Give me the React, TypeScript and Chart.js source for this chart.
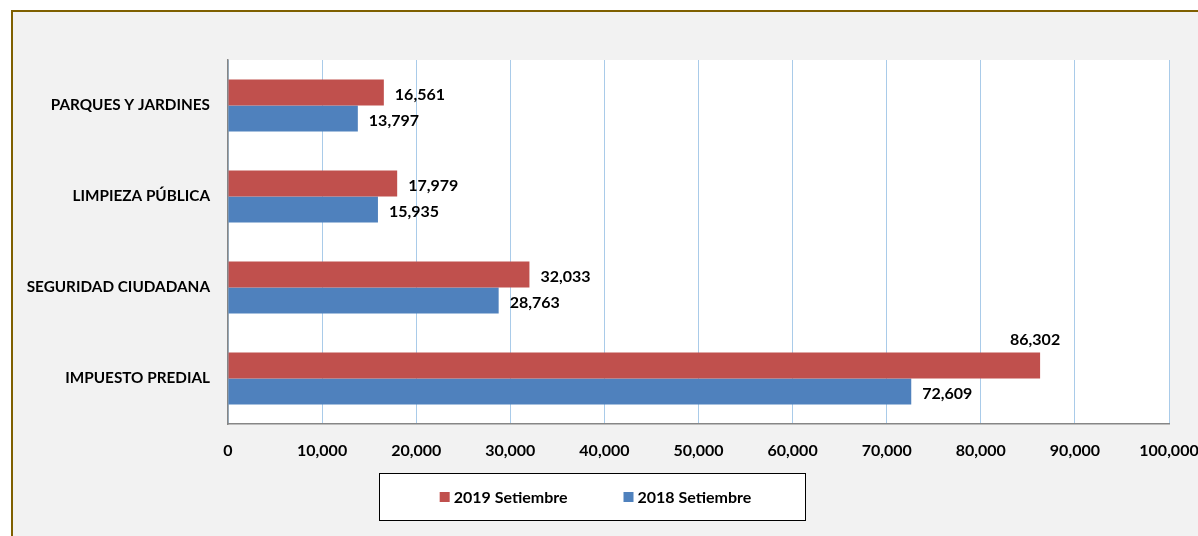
import React, { useEffect, useRef } from 'react';
import { Chart, registerables } from 'chart.js';

Chart.register(...registerables);

const categories = ['PARQUES Y JARDINES', 'LIMPIEZA PÚBLICA', 'SEGURIDAD CIUDADANA', 'IMPUESTO PREDIAL'];
const values2019 = [16561, 17979, 32033, 86302];
const values2018 = [13797, 15935, 28763, 72609];
const seriesNames = ['2019 Setiembre', '2018 Setiembre'];
const seriesColors = ['#c0504d', '#4f81bd'];
const xMin = 0;
const xMax = 100000;
const xStep = 10000;

const FONT = 'Lato, "Liberation Sans", sans-serif';
const fmt = (v: number) => v.toLocaleString('en-US');

const framePlugin = {
  id: 'frame',
  beforeDraw(chart: any) {
    const { ctx, width, height, chartArea } = chart;
    ctx.save();
    ctx.fillStyle = '#ffffff';
    ctx.fillRect(0, 0, width, height);
    ctx.fillStyle = '#f2f2f2';
    ctx.fillRect(12, 11, width - 12, height - 11);
    ctx.strokeStyle = '#7f6000';
    ctx.lineWidth = 2;
    ctx.beginPath();
    ctx.moveTo(12, height);
    ctx.lineTo(12, 11);
    ctx.lineTo(width, 11);
    ctx.stroke();
    ctx.fillStyle = '#ffffff';
    ctx.fillRect(chartArea.left, chartArea.top, chartArea.right - chartArea.left, chartArea.bottom - chartArea.top);
    ctx.restore();
  },
};

const labelPlugin = {
  id: 'valueLabels',
  afterDatasetsDraw(chart: any) {
    const { ctx } = chart;
    let maxVal = -Infinity;
    chart.data.datasets.forEach((ds: any) => ds.data.forEach((v: number) => { if (v > maxVal) maxVal = v; }));
    ctx.save();
    ctx.font = `bold 16px ${FONT}`;
    ctx.fillStyle = '#000000';
    chart.data.datasets.forEach((ds: any, di: number) => {
      const meta = chart.getDatasetMeta(di);
      meta.data.forEach((bar: any, i: number) => {
        const v = ds.data[i];
        const text = fmt(v);
        if (v === maxVal) {
          ctx.textAlign = 'center';
          ctx.textBaseline = 'middle';
          ctx.fillText(text, bar.x - 5, bar.y - bar.height / 2 - 13);
        } else {
          ctx.textAlign = 'left';
          ctx.textBaseline = 'middle';
          ctx.fillText(text, bar.x + 11, bar.y + 2);
        }
      });
    });
    ctx.restore();
  },
};

const legendPlugin = {
  id: 'boxLegend',
  afterDraw(chart: any) {
    const { ctx } = chart;
    const box = { x: 379.5, y: 473.5, w: 426, h: 47 };
    ctx.save();
    ctx.fillStyle = '#ffffff';
    ctx.fillRect(box.x, box.y, box.w, box.h);
    ctx.strokeStyle = '#000000';
    ctx.lineWidth = 1;
    ctx.strokeRect(box.x, box.y, box.w, box.h);
    ctx.font = `bold 16px ${FONT}`;
    ctx.textBaseline = 'middle';
    ctx.textAlign = 'left';
    const sq = 10;
    const gapSq = 4;
    const gapItems = 56;
    const items = chart.data.datasets.map((ds: any) => ({ label: ds.label, color: ds.backgroundColor, w: ctx.measureText(ds.label).width }));
    const total = items.reduce((s: number, it: any) => s + sq + gapSq + it.w, 0) + gapItems * (items.length - 1);
    let x = box.x + box.w / 2 - total / 2 + 3;
    const cy = box.y + box.h / 2;
    items.forEach((it: any) => {
      ctx.fillStyle = it.color;
      ctx.fillRect(x, cy - 5, sq, sq);
      ctx.fillStyle = '#000000';
      ctx.fillText(it.label, x + sq + gapSq, cy + 1);
      x += sq + gapSq + it.w + gapItems;
    });
    ctx.restore();
  },
};

export default function App() {
  const ref = useRef<HTMLCanvasElement>(null);

  useEffect(() => {
    if (!ref.current) return;
    const chart = new Chart(ref.current, {
      type: 'bar',
      data: {
        labels: categories,
        datasets: [
          { label: seriesNames[0], data: values2019, backgroundColor: seriesColors[0], borderWidth: 0, categoryPercentage: 0.57, barPercentage: 1 },
          { label: seriesNames[1], data: values2018, backgroundColor: seriesColors[1], borderWidth: 0, categoryPercentage: 0.57, barPercentage: 1 },
        ],
      },
      options: {
        indexAxis: 'y',
        animation: false,
        responsive: false,
        maintainAspectRatio: false,
        layout: { padding: { top: 60, right: 29, bottom: 72, left: 0 } },
        plugins: {
          legend: { display: false },
          tooltip: { enabled: false },
        },
        scales: {
          x: {
            min: xMin,
            max: xMax,
            ticks: {
              stepSize: xStep,
              color: '#000000',
              padding: 17,
              maxRotation: 0,
              autoSkip: false,
              font: { family: FONT, size: 16, weight: 'bold' },
              callback: (v: any) => fmt(Number(v)),
            },
            grid: { color: '#a9cbe9', lineWidth: 1, drawTicks: false },
            border: { display: true, color: '#868686', width: 1.5 },
            afterFit: (scale: any) => {
              scale.height = 40;
              scale.paddingLeft = 0;
              scale.paddingRight = 0;
            },
          },
          y: {
            ticks: {
              color: '#000000',
              padding: 18,
              font: { family: FONT, size: 15.3, weight: 'bold' },
            },
            grid: { color: 'rgba(0,0,0,0)', drawTicks: false },
            border: { display: true, color: '#868686', width: 1.5 },
            afterFit: (scale: any) => {
              scale.width = 228;
              scale.paddingTop = 0;
              scale.paddingBottom = 0;
            },
          },
        },
      },
      plugins: [framePlugin, labelPlugin, legendPlugin],
    });
    return () => chart.destroy();
  }, []);

  return (
    <div style={{ position: 'fixed', left: 0, top: 0, width: 1198, height: 536 }}>
      <canvas ref={ref} width={1198} height={536} style={{ display: 'block', width: 1198, height: 536 }} />
    </div>
  );
}
